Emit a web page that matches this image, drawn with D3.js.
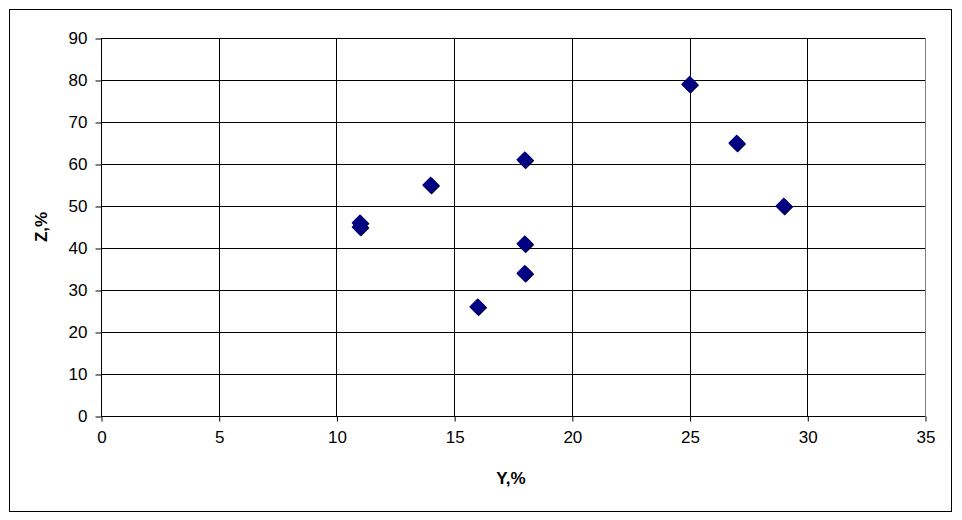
<!DOCTYPE html>
<html><head><meta charset="utf-8">
<script src="https://cdn.jsdelivr.net/npm/d3@7"></script>
<style>body{margin:0;background:#fff;}svg{display:block;font-family:"Liberation Sans",Arial,sans-serif;}</style>
</head><body><svg id="c" width="962" height="520"></svg>
<script>
const yValues = [11, 11, 14, 16, 18, 18, 18, 25, 27, 29];
const zValues = [45, 46, 55, 26, 61, 41, 34, 79, 65, 50];
const xTicks = [0, 5, 10, 15, 20, 25, 30, 35];
const yTicks = [0, 10, 20, 30, 40, 50, 60, 70, 80, 90];
const xTitle = "Y,%";
const yTitle = "Z,%";

const svg = d3.select("#c");
const L = 101, R = 925, T = 38, B = 416;
const x = d3.scaleLinear().domain([0, 35]).range([L, R]);
const y = d3.scaleLinear().domain([0, 90]).range([B, T]);

svg.append("rect").attr("x", 9.5).attr("y", 9.5).attr("width", 942).attr("height", 502)
  .attr("fill", "#fff").attr("stroke", "#000").attr("stroke-width", 1);

// plot border (gray)
svg.append("rect").attr("x", L + 0.5).attr("y", T + 0.5).attr("width", R - L).attr("height", B - T)
  .attr("fill", "none").attr("stroke", "#808080");

// grid
svg.append("g").selectAll("line").data(yTicks.filter(d => d > 0)).join("line")
  .attr("x1", L).attr("x2", R).attr("y1", d => Math.round(y(d)) + 0.5).attr("y2", d => Math.round(y(d)) + 0.5)
  .attr("stroke", "#000");
svg.append("g").selectAll("line").data(xTicks.filter(d => d > 0 && d < 35)).join("line")
  .attr("y1", T).attr("y2", B).attr("x1", d => Math.round(x(d)) + 0.5).attr("x2", d => Math.round(x(d)) + 0.5)
  .attr("stroke", "#000");

// axes
const xa = svg.append("g").attr("transform", `translate(0.5,${B + 0.5})`)
  .call(d3.axisBottom(x).tickValues(xTicks).tickSize(5).tickPadding(9).tickFormat(d3.format("d")));
const ya = svg.append("g").attr("transform", `translate(${L + 0.5},0.5)`)
  .call(d3.axisLeft(y).tickValues(yTicks).tickSize(6).tickPadding(8).tickFormat(d3.format("d")));
[xa, ya].forEach(a => {
  a.select(".domain").attr("stroke", "#000");
  a.selectAll(".tick line").attr("stroke", "#000");
  a.selectAll("text").attr("font-size", 17).attr("fill", "#000")
    .attr("font-family", "'Liberation Sans',Arial,sans-serif");
});
xa.select(".domain").attr("d", `M${L - 0.5},0H${R - 0.5}`);
ya.select(".domain").attr("d", `M0,${T - 0.5}V${B - 0.5}`);

// titles
svg.append("text").attr("x", 511).attr("y", 484).attr("text-anchor", "middle")
  .attr("font-size", 17).attr("font-weight", "bold").text(xTitle);
svg.append("text").attr("transform", "translate(47,227) rotate(-90)").attr("text-anchor", "middle")
  .attr("font-size", 17).attr("font-weight", "bold").text(yTitle);

// markers
const pts = yValues.map((v, i) => ({ x: v, y: zValues[i] }));
const dia = (cx, cy, r) => `M${cx},${cy - r}L${cx + r},${cy}L${cx},${cy + r}L${cx - r},${cy}Z`;
svg.append("g").selectAll("path").data(pts).join("path")
  .attr("d", d => dia(x(d.x) + 1, y(d.y) + 1, 8.5)).attr("fill", "#000040");
svg.append("g").selectAll("path").data(pts).join("path")
  .attr("d", d => dia(x(d.x), y(d.y), 8.5)).attr("fill", "#000080");
</script></body></html>
